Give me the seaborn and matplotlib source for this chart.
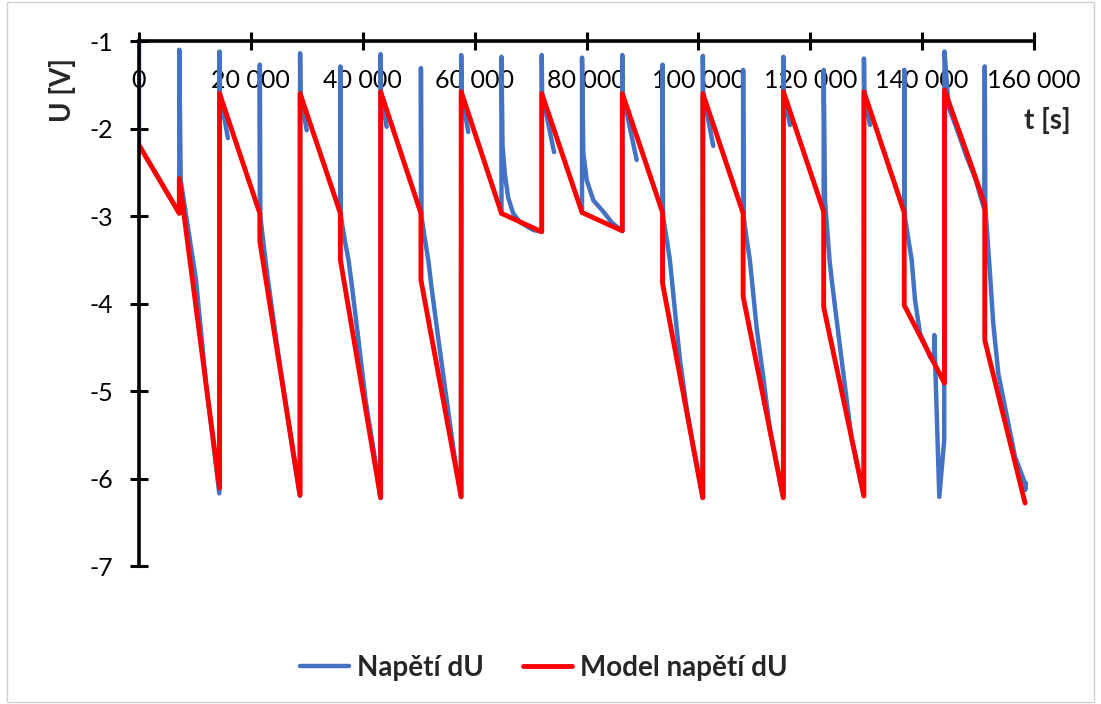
import matplotlib
matplotlib.use("Agg")
import matplotlib.pyplot as plt
import numpy as np
import pandas as pd
import seaborn as sns
from matplotlib.lines import Line2D
from matplotlib.patches import Rectangle
from matplotlib.ticker import FuncFormatter

# ---------------- data ----------------
# Model napětí dU  (time in s, voltage in V)
red_t = [0, 7200, 7200, 14400, 14400, 21600, 21600, 28800, 28800, 36000, 36000, 43200,
         43200, 50400, 50400, 57600, 57600, 64800, 72000, 72000, 79200, 86400, 86400,
         93600, 93600, 100800, 100800, 108000, 108000, 115200, 115200, 122400, 122400,
         129600, 129600, 136800, 136800, 144000, 144000, 148560, 151200, 151200, 158400]
red_u = [-2.19, -2.97, -2.57, -6.11, -1.60, -2.97, -3.29, -6.19, -1.60, -2.97, -3.50, -6.22,
         -1.58, -2.97, -3.73, -6.21, -1.58, -2.97, -3.18, -1.60, -2.96, -3.17, -1.60,
         -2.96, -3.77, -6.22, -1.60, -2.97, -3.92, -6.22, -1.58, -2.95, -4.04,
         -6.20, -1.58, -2.96, -4.02, -4.91, -1.56, -2.38, -2.87, -4.42, -6.28]

# Napětí dU (measured) - segments of the recorded curve
blue_t = [
    0, 0, 7200, 7200, 7450, 10190, 11980, 13200, 14350, 14400, 14460, 15900,
    21600, 21600, 21680, 22600, 23100, 24500, 26000, 27400, 28750, 28800, 28860, 29980,
    36000, 36000, 36080, 36800, 37450, 38100, 39300, 40500, 42000, 43150, 43200, 43260, 44270,
    50400, 50400, 50480, 51200, 51750, 52300, 53500, 55000, 56300, 57550, 57600, 57660, 58870,
    64800, 64800, 64990, 65420, 66000, 66900, 68100, 70470, 72000, 72000, 72060, 74200,
    79200, 79200, 79430, 80040, 81220, 83000, 84600, 86400, 86400, 86460, 88970,
    93600, 93600, 93680, 94300, 94900, 96100, 96720, 97800, 99000, 100750, 100800, 100860, 102660,
    108000, 108000, 108080, 108600, 109200, 110400, 111600, 112800, 115150, 115200, 115260, 116380,
    122400, 122400, 122640, 123440, 123840, 124430, 125620, 127400, 129550, 129600, 129660, 130670,
    136800, 136800, 136900, 137500, 138130, 138730, 139620, 141410, 142100, 142180, 143070,
    143950, 144000, 144390, 144700, 146000, 148000, 149500, 151100, 151200, 151300, 152130,
    152720, 153620, 154810, 156600, 158200, 158450, 158550,
]
blue_u = [
    -1.00, -2.19, -2.97, -1.10, -2.59, -3.73, -4.92, -5.55, -6.17, -1.12, -1.60, -2.11,
    -2.97, -1.27, -3.00, -3.50, -3.75, -4.40, -5.05, -5.65, -6.20, -1.14, -1.60, -2.02,
    -2.97, -1.29, -3.00, -3.28, -3.50, -3.82, -4.45, -5.10, -5.70, -6.22, -1.15, -1.60, -1.98,
    -2.97, -1.31, -3.00, -3.30, -3.52, -3.82, -4.40, -5.10, -5.70, -6.21, -1.16, -1.60, -2.04,
    -2.97, -1.18, -2.20, -2.53, -2.79, -2.97, -3.07, -3.16, -3.18, -1.16, -1.60, -2.27,
    -2.96, -1.19, -2.28, -2.59, -2.82, -2.95, -3.08, -3.17, -1.16, -1.60, -2.36,
    -2.96, -1.27, -3.00, -3.25, -3.50, -4.27, -4.65, -5.15, -5.62, -6.22, -1.17, -1.60, -2.20,
    -2.97, -1.33, -3.00, -3.25, -3.50, -4.27, -4.84, -5.45, -6.22, -1.18, -1.60, -1.96,
    -2.95, -1.33, -2.82, -3.50, -3.73, -4.04, -4.65, -5.55, -6.20, -1.20, -1.60, -1.96,
    -2.96, -1.33, -3.00, -3.25, -3.50, -3.96, -4.34, -4.61, -4.68, -4.36, -6.21,
    -5.56, -1.12, -1.45, -1.75, -1.97, -2.33, -2.57, -2.92, -1.29, -2.90, -3.66,
    -4.23, -4.80, -5.18, -5.75, -6.02, -6.13, -6.05,
]
blue_seg = ([0] * 12 + [1] * 12 + [2] * 13 + [3] * 13 + [4] * 12 + [5] * 11 +
            [6] * 13 + [7] * 12 + [8] * 12 + [9] * 29)

series_names = ["Napětí dU", "Model napětí dU"]
x_ticks = list(range(0, 160001, 20000))
y_ticks = [-7, -6, -5, -4, -3, -2, -1]

BLUE = "#4472C4"
RED = "#FF0000"

# ---------------- style ----------------
sns.set_style("white")
plt.rcParams["font.family"] = ["Lato", "DejaVu Sans"]
plt.rcParams["axes.unicode_minus"] = False

W, H = 1101, 704
fig = plt.figure(figsize=(W / 100, H / 100), dpi=100)
x0, x1, y_top, y_bot = 139, 1034, 41, 566
ax = fig.add_axes([x0 / W, 1 - y_bot / H, (x1 - x0) / W, (y_bot - y_top) / H])

blue_df = pd.DataFrame({"t": blue_t, "U": blue_u, "seg": blue_seg})
red_df = pd.DataFrame({"t": red_t, "U": red_u, "seg": [0] * len(red_t)})

sns.lineplot(data=blue_df, x="t", y="U", units="seg", estimator=None, sort=False,
             color=BLUE, linewidth=3.2, ax=ax, legend=False)
sns.lineplot(data=red_df, x="t", y="U", units="seg", estimator=None, sort=False,
             color=RED, linewidth=3.5, ax=ax, legend=False)
for ln in ax.lines:
    ln.set_solid_joinstyle("round")
    ln.set_solid_capstyle("round")

ax.set_xlim(0, 160000)
ax.set_ylim(-7, -1)
ax.spines["top"].set_visible(False)
ax.spines["right"].set_visible(False)
ax.spines["bottom"].set_position(("data", -1))
for s in ("left", "bottom"):
    ax.spines[s].set_linewidth(2.6)
    ax.spines[s].set_color("black")
    ax.spines[s].set_zorder(5)
ax.set_xticks(x_ticks)
ax.set_yticks(y_ticks)
ax.xaxis.set_major_formatter(FuncFormatter(lambda v, p: f"{int(round(v)):,}".replace(",", " ")))
ax.yaxis.set_major_formatter(FuncFormatter(lambda v, p: f"{int(round(v))}"))
ax.tick_params(axis="both", which="major", direction="inout", length=13, width=2.2,
               color="black", labelsize=18, labelcolor="black",
               bottom=True, left=True, top=False, right=False)
ax.tick_params(axis="x", pad=14)
ax.tick_params(axis="y", pad=12)
ax.grid(False)

ax.set_ylabel("U [V]", fontsize=20, fontweight="bold")
ax.yaxis.label.set(ha="center", va="center", rotation_mode="anchor")
ax.yaxis.set_label_coords((63 - x0) / (x1 - x0), (y_bot - 90) / (y_bot - y_top))
ax.set_xlabel("t [s]", fontsize=20, fontweight="bold")
ax.xaxis.label.set(ha="center", va="center")
ax.xaxis.set_label_coords((1047 - x0) / (x1 - x0), (y_bot - 120) / (y_bot - y_top))

handles = [Line2D([], [], color=BLUE, lw=3.2), Line2D([], [], color=RED, lw=3.5)]
fig.legend(handles, series_names, loc="center", bbox_to_anchor=(544 / W, 1 - 668 / H),
           ncol=2, frameon=False, prop={"weight": "bold", "size": 20},
           handlelength=1.75, handletextpad=0.3, columnspacing=1.4)

fig.patches.append(Rectangle((7 / W, 2 / H), 1 - 14 / W, 1 - 4 / H, transform=fig.transFigure,
                             fill=False, edgecolor="#d0d0d0", lw=1.0))

fig.savefig("out.png", dpi=100, facecolor="white")
